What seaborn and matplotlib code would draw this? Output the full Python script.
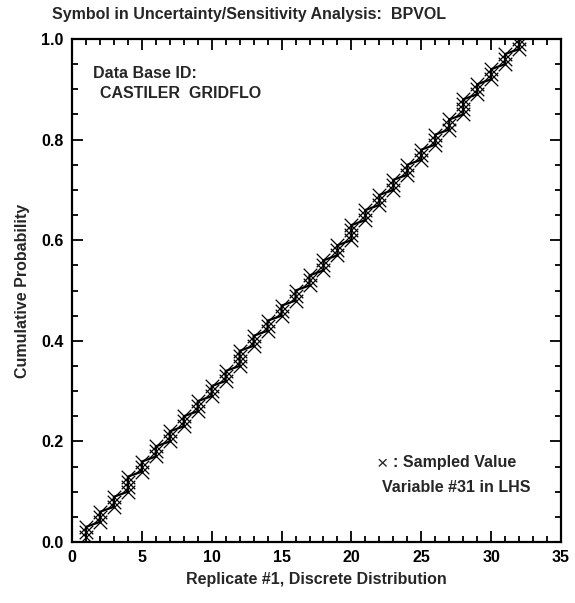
import numpy as np
import pandas as pd
import matplotlib
matplotlib.use("Agg")
import matplotlib.pyplot as plt
from matplotlib.ticker import MultipleLocator, FormatStrFormatter
import seaborn as sns

# --- data: replicate values 1..32 and how many LHS samples hit each ---
replicate_values = list(range(1, 33))
sample_counts = [3, 3, 3, 4, 3, 3, 3, 3, 3, 3, 3, 4, 3, 3, 3, 3,
                 3, 3, 3, 4, 3, 3, 3, 3, 3, 3, 3, 4, 3, 3, 3, 3]
title_text = "Symbol in Uncertainty/Sensitivity Analysis:  BPVOL"
x_label = "Replicate #1, Discrete Distribution"
y_label = "Cumulative Probability"

sampled = np.repeat(replicate_values, sample_counts)
n = len(sampled)
df = pd.DataFrame({"value": np.sort(sampled),
                   "prob": np.arange(1, n + 1) / n})

sns.set_style("ticks")
plt.rcParams["font.family"] = ["Liberation Sans", "DejaVu Sans"]
plt.rcParams["font.weight"] = "bold"

W, H = 575, 603
fig = plt.figure(figsize=(W / 100, H / 100), dpi=100)
L, R, T, B = 72, 561, 39, 542
ax = fig.add_axes([L / W, 1 - B / H, (R - L) / W, (B - T) / H])

sns.lineplot(data=df, x="value", y="prob", ax=ax, color="black", lw=1.6,
             sort=False, estimator=None)
sns.scatterplot(data=df, x="value", y="prob", ax=ax, color="black",
                marker="x", s=95, linewidth=0.9, zorder=3)

ax.set_xlim(0, 35)
ax.set_ylim(0, 1)
ax.xaxis.set_major_locator(MultipleLocator(5))
ax.xaxis.set_minor_locator(MultipleLocator(1))
ax.yaxis.set_major_locator(MultipleLocator(0.2))
ax.yaxis.set_minor_locator(MultipleLocator(0.05))
ax.yaxis.set_major_formatter(FormatStrFormatter("%.1f"))
ax.tick_params(which="both", direction="in", top=True, right=True,
               labelsize=11.5, width=1.3, colors="black")
ax.tick_params(which="major", length=8, pad=6)
ax.tick_params(which="minor", length=4)
for s in ax.spines.values():
    s.set_linewidth(1.6)
    s.set_color("black")

ax.set_xlabel(x_label, fontsize=11.5, fontweight="bold", labelpad=5)
ax.set_ylabel(y_label, fontsize=11.5, fontweight="bold", labelpad=8)


def px(x, y):
    return x / W, 1 - y / H


fig.text(*px(52, 15), title_text, fontsize=11.5, va="center", ha="left")
fig.text(*px(93, 73), "Data Base ID:", fontsize=11.5, va="center")
fig.text(*px(100, 94), "CASTILER  GRIDFLO", fontsize=11.5, va="center")
fig.text(*px(377, 465), "\u00d7", fontsize=14, fontweight="normal", va="center")
fig.text(*px(393, 462), ": Sampled Value", fontsize=11.5, va="center")
fig.text(*px(382, 487), "Variable #31 in LHS", fontsize=11.5, va="center")

fig.savefig("out.png", dpi=100)
